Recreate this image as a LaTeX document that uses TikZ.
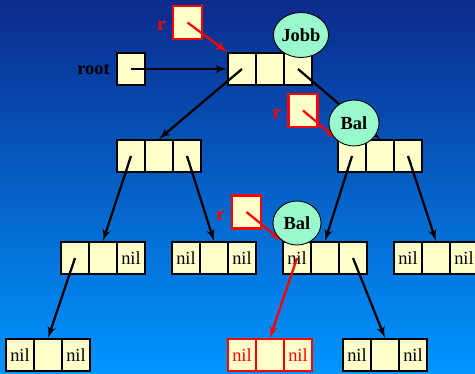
\documentclass[tikz,border=0pt]{standalone}
\usepackage{fontspec}
\setmainfont{Liberation Serif}
\usepackage{xcolor}
\usepackage{tikz}
\usetikzlibrary{shapes,arrows}
\usetikzlibrary{shapes.geometric, positioning}

\definecolor{cellyellow}{HTML}{FFFFCC}
\definecolor{mint}{HTML}{99F8CC}
\definecolor{skytop}{HTML}{0B2A8C}
\definecolor{skymid}{HTML}{0A70D2}
\definecolor{skybot}{HTML}{0095FF}

\tikzstyle{cell} = [draw, line width=1.1pt, fill=cellyellow, minimum width=0.56cm, minimum height=0.64cm, inner sep=0pt, font=\fontsize{10.5}{12}\selectfont]
\tikzstyle{newcell} = [cell, draw=red, text=red]
\tikzstyle{ptr} = [draw=red, line width=1.3pt, fill=cellyellow, minimum width=0.58cm, minimum height=0.66cm, inner sep=0pt]
\tikzstyle{rname} = [text=red, font=\fontsize{11}{12}\selectfont\bfseries, yshift=-2pt]
\tikzstyle{tag} = [draw, ellipse, line width=0.5pt, fill=mint, inner sep=0pt, font=\fontsize{10.5}{12}\selectfont\bfseries]
\tikzstyle{line} = [draw, line width=1.3pt, -latex']
\tikzstyle{redline} = [line, red]

\begin{document}
\begin{tikzpicture}[x=0.02cm, y=-0.02cm, node distance = 0.56cm, auto]
    \useasboundingbox (0,0) rectangle (475,373);
    \clip (0,0) rectangle (475,373);
    \shade [top color=skytop, middle color=skymid, bottom color=skybot] (0,0) rectangle (475,373);

    % Place nodes
    \node [cell, label={[font=\fontsize{10.5}{12}\selectfont\bfseries]left:root}] (root) at (131,69) {};

    \node [cell] (topa) at (242,69) {};
    \node [cell, right of=topa] (topb) {};
    \node [cell, right of=topb] (topc) {};

    \node [cell] (la) at (131,156) {};
    \node [cell, right of=la] (lb) {};
    \node [cell, right of=lb] (lc) {};

    \node [cell] (ra) at (352,156) {};
    \node [cell, right of=ra] (rb) {};
    \node [cell, right of=rb] (rc) {};

    \node [cell] (lla) at (75,258) {};
    \node [cell, right of=lla] (llb) {};
    \node [cell, right of=llb] (llc) {nil};

    \node [cell] (lra) at (186,258) {nil};
    \node [cell, right of=lra] (lrb) {};
    \node [cell, right of=lrb] (lrc) {nil};

    \node [cell] (rla) at (297,258) {nil};
    \node [cell, right of=rla] (rlb) {};
    \node [cell, right of=rlb] (rlc) {};

    \node [cell] (rra) at (408,258) {nil};
    \node [cell, right of=rra] (rrb) {};
    \node [cell, right of=rrb] (rrc) {nil};

    \node [cell] (llla) at (20,355) {nil};
    \node [cell, right of=llla] (lllb) {};
    \node [cell, right of=lllb] (lllc) {nil};

    \node [newcell] (rlla) at (242,355) {nil};
    \node [newcell, right of=rlla] (rllb) {};
    \node [newcell, right of=rllb] (rllc) {nil};

    \node [cell] (rlra) at (357,355) {nil};
    \node [cell, right of=rlra] (rlrb) {};
    \node [cell, right of=rlrb] (rlrc) {nil};

    % r pointers
    \node [ptr, label={[rname]left:r}] (r1) at (187.5,22.5) {};
    \node [ptr, label={[rname]left:r}] (r2) at (303,110.5) {};
    \node [ptr, label={[rname]left:r}] (r3) at (246.5,212) {};

    % Links
    \path [line] (root.center) -- (topa.west);
    \path [line] (topa.center) -- (lb.north);
    \path [line] (topc.center) -- (rb.north);
    \path [line] (la.center) -- (llb.north);
    \path [line] (lc.center) -- (lrb.north);
    \path [line] (ra.center) -- (rlb.north);
    \path [line] (rc.center) -- (rrb.north);
    \path [line] (lla.center) -- (lllb.north);
    \path [line] (rlc.center) -- (rlrb.north);
    \path [redline] (rla.center) -- (rllb.north);

    \path [redline] (r1.center) -- (topa.north west);
    \path [redline] (r2.center) -- (ra.north west);
    \path [redline] (r3.center) -- (rla.north west);

    % Balance marks
    \node [tag, minimum width=0.96cm, minimum height=0.9cm] (jobb) at (301,35) {Jobb};
    \node [tag, minimum width=1cm, minimum height=0.92cm] (bal1) at (354,123) {Bal};
    \node [tag, minimum width=0.96cm, minimum height=0.88cm] (bal2) at (297,223) {Bal};

\end{tikzpicture}
\end{document}
